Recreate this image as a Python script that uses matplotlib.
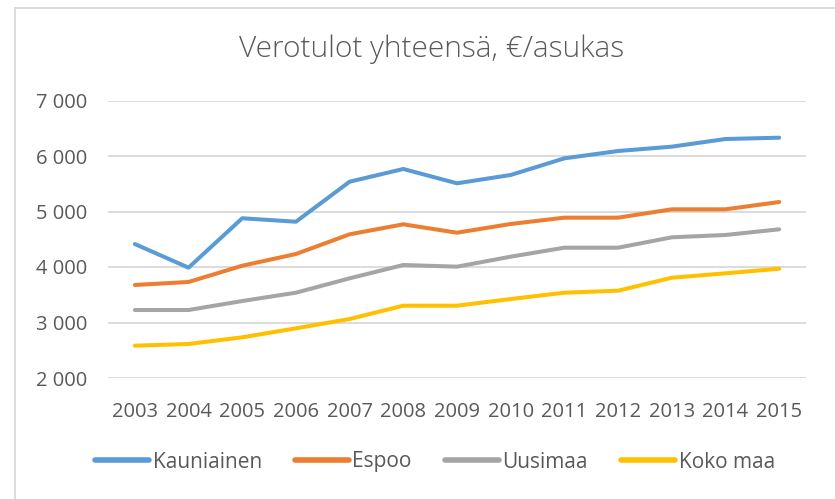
import numpy as np
import matplotlib.pyplot as plt
from matplotlib.lines import Line2D
from matplotlib.ticker import FuncFormatter

# data
years      = [2003, 2004, 2005, 2006, 2007, 2008, 2009, 2010, 2011, 2012, 2013, 2014, 2015]
kauniainen = [4414, 3988, 4878, 4816, 5537, 5766, 5508, 5658, 5958, 6090, 6168, 6306, 6330]
espoo      = [3676, 3730, 4023, 4234, 4589, 4769, 4618, 4775, 4889, 4889, 5039, 5039, 5171]
uusimaa    = [3225, 3225, 3387, 3537, 3796, 4036, 4006, 4186, 4348, 4348, 4535, 4577, 4679]
koko_maa   = [2582, 2613, 2733, 2895, 3063, 3303, 3303, 3423, 3537, 3573, 3807, 3886, 3969]

series = [("Kauniainen", kauniainen, "#5B9BD5"),
          ("Espoo",      espoo,      "#ED7D31"),
          ("Uusimaa",    uusimaa,    "#A5A5A5"),
          ("Koko maa",   koko_maa,   "#FFC000")]

txt = "#595959"
plt.rcParams['font.family'] = ['Open Sans', 'DejaVu Sans']

fig = plt.figure(figsize=(8.35, 4.99), dpi=100)
ax = fig.add_axes([108/835, 1-378/499, 698/835, 277.5/499])

x = np.arange(len(years))
for name, vals, col in series:
    ax.plot(x, vals, color=col, lw=2.9, solid_capstyle='round',
            solid_joinstyle='round', label=name)

ax.set_xlim(-0.5, len(years) - 0.5)
ax.set_ylim(2000, 7000)
ax.set_yticks(range(2000, 7001, 1000))
ax.yaxis.set_major_formatter(FuncFormatter(lambda v, p: f"{int(v):,}".replace(",", " ")))
ax.set_xticks(x)
ax.set_xticklabels([str(y) for y in years])
ax.grid(axis='y', color='#D9D9D9', lw=1.3)
ax.set_axisbelow(True)
for s in ax.spines.values():
    s.set_visible(False)
ax.tick_params(axis='both', length=0, labelsize=14.5, colors=txt)
ax.tick_params(axis='x', pad=17)
ax.tick_params(axis='y', pad=15)

fig.text(432/835, 1-49/499, "Verotulot yhteensä, €/asukas", ha='center', va='center',
         fontsize=21.5, color=txt, fontweight='light')

handles = [Line2D([], [], color=c, lw=4, solid_capstyle='round') for _, _, c in series]
fig.legend(handles, [n for n, _, _ in series], loc='center', bbox_to_anchor=(435/835, 1-462/499),
           ncol=4, frameon=False, fontsize=15, labelcolor=txt, handlelength=2.6,
           handletextpad=0.15, columnspacing=1.6)

# chart area border (left and top visible)
fig.add_artist(Line2D([15/835, 15/835], [0, 1-8/499], color='#D9D9D9', lw=1.3, transform=fig.transFigure))
fig.add_artist(Line2D([15/835, 1], [1-8/499, 1-8/499], color='#D9D9D9', lw=1.3, transform=fig.transFigure))

fig.savefig("out.png", dpi=100)
